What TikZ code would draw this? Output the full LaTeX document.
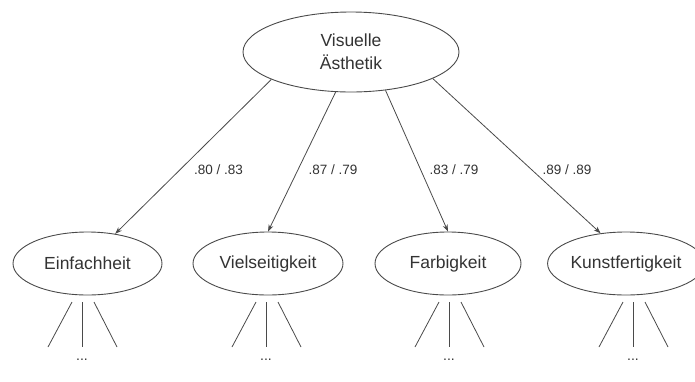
\documentclass[tikz,border=0pt]{standalone}
\usepackage{fontspec}
\setmainfont{Liberation Sans}
\usetikzlibrary{arrows.meta,shapes.geometric}
\definecolor{linec}{HTML}{4A4A4A}
\definecolor{textc}{HTML}{333333}
\begin{document}
\begin{tikzpicture}[x=1pt,y=-1pt,
  oval/.style={ellipse,draw=linec,line width=0.9pt,inner sep=0pt,text=textc,font=\fontsize{17.5}{23}\selectfont},
  conn/.style={draw=linec,line width=0.8pt,-{Stealth[length=7pt,width=5pt]}},
  leg/.style={draw=linec,line width=0.8pt},
  lbl/.style={text=textc,font=\fontsize{13.5}{16}\selectfont,inner sep=0pt},
  dots/.style={text=textc,font=\fontsize{14}{16}\selectfont,inner sep=0pt}]
\fill[white] (0,0) rectangle (695,381);
\useasboundingbox (0,0) rectangle (695,381);

\node[oval,minimum width=216pt,minimum height=80pt,align=center] (top) at (351,52) {Visuelle\\Ästhetik};
\node[oval,minimum width=149pt,minimum height=63pt] (a) at (87.5,263.5) {Einfachheit};
\node[oval,minimum width=150pt,minimum height=63pt] (b) at (268,263.5) {Vielseitigkeit};
\node[oval,minimum width=146pt,minimum height=63pt] (c) at (448,263.5) {Farbigkeit};
\node[oval,minimum width=140pt,minimum height=63pt] (d) at (626,263.5) {Kunstfertigkeit};

\draw[conn] (top.199.7) -- (a.47.7);
\draw[conn] (top.249.4) -- (b.90);
\draw[conn] (top.312.8) -- (c.90);
\draw[conn] (top.342) -- (d.130.9);

\node[lbl] (la) at (218.5,170) {.80 / .83};
\node[lbl] (lb) at (333,170) {.87 / .79};
\node[lbl] (lc) at (454,170) {.83 / .79};
\node[lbl] (ld) at (567,170) {.89 / .89};

\foreach \n/\cx in {a/82,b/266,c/449,d/633}{
  \coordinate (\n l1) at (\cx-10,302);
  \coordinate (\n l2) at (\cx-34,347);
  \coordinate (\n m1) at (\cx,302);
  \coordinate (\n m2) at (\cx,347);
  \coordinate (\n r1) at (\cx+12,302);
  \coordinate (\n r2) at (\cx+35,347);
  \draw[leg] (\n l1) -- (\n l2);
  \draw[leg] (\n m1) -- (\n m2);
  \draw[leg] (\n r1) -- (\n r2);
  \node[dots] (\n dots) at (\cx,360) {...};
}
\end{tikzpicture}
\end{document}
